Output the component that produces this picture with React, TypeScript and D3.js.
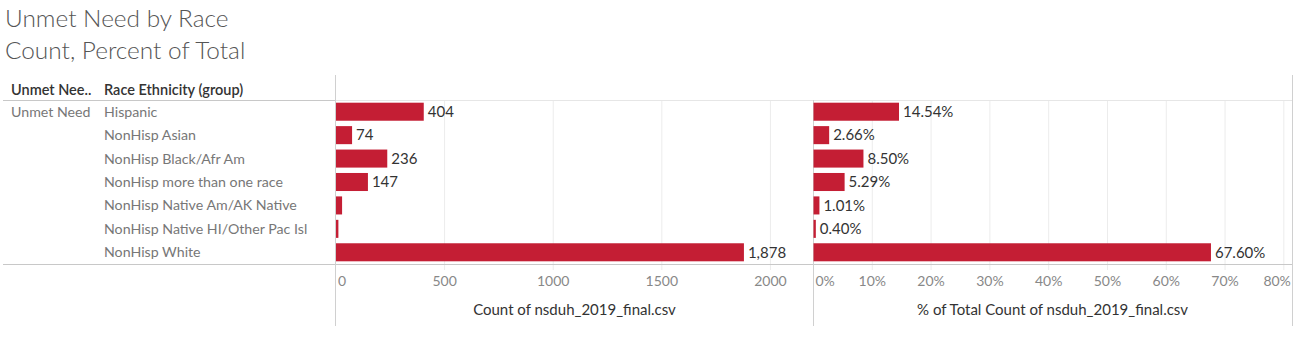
import React from "react";
import * as d3 from "d3";

const titleLines = ["Unmet Need by Race", "Count, Percent of Total"];
const headerLabels = ["Unmet Nee..", "Race Ethnicity (group)"];
const groupLabel = "Unmet Need";
const categories = [
  "Hispanic",
  "NonHisp Asian",
  "NonHisp Black/Afr Am",
  "NonHisp more than one race",
  "NonHisp Native Am/AK Native",
  "NonHisp Native HI/Other Pac Isl",
  "NonHisp White",
];
const counts = [404, 74, 236, 147, 28, 11, 1878];
const showCountLabel = [true, true, true, true, false, false, true];
const countTicks = [0, 500, 1000, 1500, 2000];
const pctTicks = [0, 10, 20, 30, 40, 50, 60, 70, 80];
const countAxisTitle = "Count of nsduh_2019_final.csv";
const pctAxisTitle = "% of Total Count of nsduh_2019_final.csv";

const W = 1296;
const H = 355;
const FONT = "Lato, 'Open Sans', sans-serif";
const RED = "#c41e34";

export default function App() {
  const total = d3.sum(counts);
  const pcts = counts.map((c) => (c / total) * 100);

  const top = 100;
  const bottom = 264;
  const y = d3
    .scaleBand<string>()
    .domain(categories)
    .range([top, bottom])
    .paddingInner(0.23)
    .paddingOuter(0.115);

  const xc = d3.scaleLinear().domain([0, 2196]).range([336, 813]);
  const xp = d3.scaleLinear().domain([0, 81.3]).range([813.5, 1291.5]);
  const fmtCount = d3.format(",");

  const tickY = 286;
  const cy = (c: string) => (y(c) as number) + y.bandwidth() / 2;

  return (
    <svg
      width={W}
      height={H}
      style={{ position: "absolute", left: 0, top: 0, background: "#fff" }}
      fontFamily={FONT}
    >
      {/* titles */}
      <text x={5} y={27} fontSize={24.4} fill="#555" fontWeight={300}>
        {titleLines[0]}
      </text>
      <text x={5} y={59} fontSize={24.4} fill="#555" fontWeight={300}>
        {titleLines[1]}
      </text>

      {/* grid lines */}
      {countTicks.slice(1).map((t) => (
        <line key={"cg" + t} x1={xc(t)} x2={xc(t)} y1={top} y2={270} stroke="#ececec" />
      ))}
      {pctTicks.slice(1).map((t) => (
        <line key={"pg" + t} x1={xp(t)} x2={xp(t)} y1={top} y2={270} stroke="#ececec" />
      ))}

      {/* frame lines */}
      <line x1={3} x2={1292} y1={top + 0.5} y2={top + 0.5} stroke="#e6e6e6" />
      <line x1={3} x2={335} y1={top + 0.5} y2={top + 0.5} stroke="#c8c8c8" />
      <line x1={3} x2={1292} y1={bottom + 0.5} y2={bottom + 0.5} stroke="#c8c8c8" />
      <line x1={335.5} x2={335.5} y1={75} y2={326} stroke="#d0d0d0" />
      <line x1={813.5} x2={813.5} y1={top} y2={326} stroke="#d0d0d0" />
      <line x1={1292.5} x2={1292.5} y1={75} y2={326} stroke="#d0d0d0" />

      {/* headers */}
      <text x={11} y={95} fontSize={14.5} fill="#333" fontWeight={600}>
        {headerLabels[0]}
      </text>
      <text x={104} y={95} fontSize={14.5} fill="#333" fontWeight={600}>
        {headerLabels[1]}
      </text>

      {/* row labels */}
      <text x={11} y={cy(categories[0])} dy="0.35em" fontSize={14.2} fill="#777">
        {groupLabel}
      </text>
      {categories.map((c) => (
        <text key={"rl" + c} x={104} y={cy(c)} dy="0.35em" fontSize={14.2} fill="#777">
          {c}
        </text>
      ))}

      {/* count bars */}
      {categories.map((c, i) => (
        <g key={"cb" + c}>
          <rect
            x={xc(0)}
            y={y(c)}
            width={xc(counts[i]) - xc(0)}
            height={y.bandwidth()}
            fill={RED}
          />
          {showCountLabel[i] && (
            <text x={xc(counts[i]) + 4} y={cy(c)} dy="0.35em" fontSize={15} fill="#333">
              {fmtCount(counts[i])}
            </text>
          )}
        </g>
      ))}

      {/* pct bars */}
      {categories.map((c, i) => (
        <g key={"pb" + c}>
          <rect
            x={xp(0)}
            y={y(c)}
            width={xp(pcts[i]) - xp(0)}
            height={y.bandwidth()}
            fill={RED}
          />
          <text x={xp(pcts[i]) + 4} y={cy(c)} dy="0.35em" fontSize={15} fill="#333">
            {pcts[i].toFixed(2) + "%"}
          </text>
        </g>
      ))}

      {/* count axis */}
      {countTicks.map((t) => (
        <text
          key={"ct" + t}
          x={t === 0 ? xc(t) + 2 : xc(t)}
          y={tickY}
          fontSize={14}
          fill="#888"
          textAnchor={t === 0 ? "start" : "middle"}
        >
          {t}
        </text>
      ))}
      <text x={(336 + 813) / 2} y={315} fontSize={15} fill="#333" textAnchor="middle">
        {countAxisTitle}
      </text>

      {/* pct axis */}
      {pctTicks.map((t, i) => (
        <text
          key={"pt" + t}
          x={i === 0 ? xp(t) + 2 : i === pctTicks.length - 1 ? xp(t) + 7 : xp(t)}
          y={tickY}
          fontSize={14}
          fill="#888"
          textAnchor={i === 0 ? "start" : i === pctTicks.length - 1 ? "end" : "middle"}
        >
          {t + "%"}
        </text>
      ))}
      <text x={(813 + 1292) / 2} y={315} fontSize={15} fill="#333" textAnchor="middle">
        {pctAxisTitle}
      </text>
    </svg>
  );
}
